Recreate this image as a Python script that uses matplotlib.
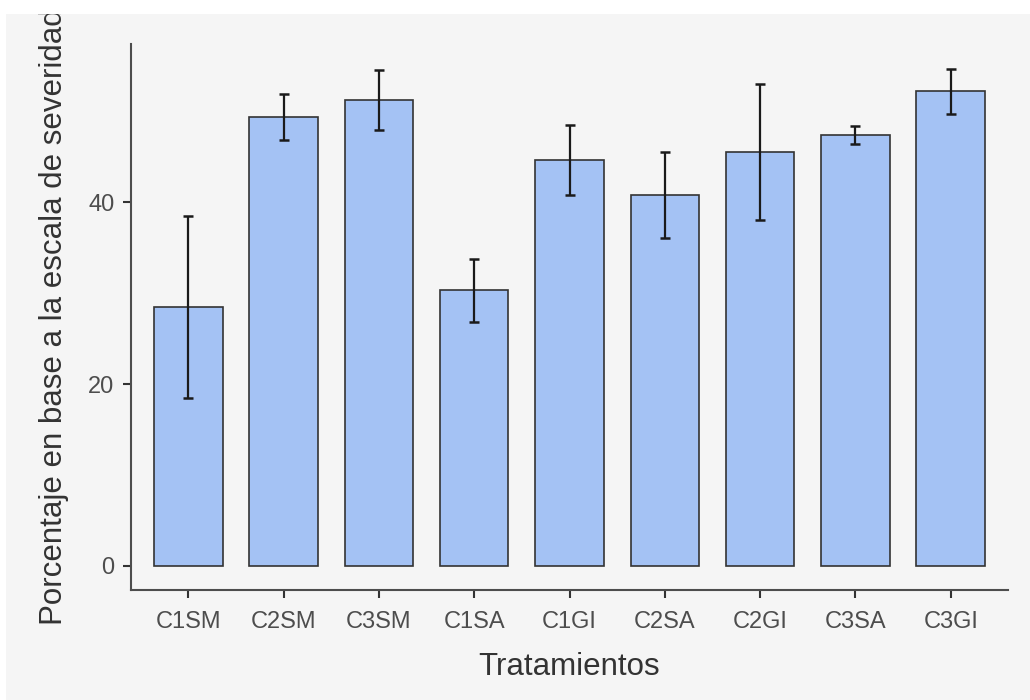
import numpy as np
import matplotlib
matplotlib.use('Agg')
import matplotlib.pyplot as plt
from matplotlib.patches import Rectangle

tratamientos = ['C1SM', 'C2SM', 'C3SM', 'C1SA', 'C1GI', 'C2SA', 'C2GI', 'C3SA', 'C3GI']
media = [28.5, 49.4, 51.2, 30.3, 44.6, 40.8, 45.5, 47.4, 52.2]
error = [10.0, 2.55, 3.3, 3.45, 3.85, 4.7, 7.5, 1.0, 2.5]
y_ticks = [0, 20, 40]

bg = '#f5f5f5'
plt.rcParams['font.family'] = ['Liberation Sans', 'DejaVu Sans']

fig = plt.figure(figsize=(10.3, 7.0), dpi=100)
fig.patch.set_facecolor(bg)
ax = fig.add_axes([131 / 1030, 110 / 700, 877 / 1030, 546 / 700])
ax.set_facecolor(bg)

x = np.arange(1, len(tratamientos) + 1)
ax.bar(x, media, width=0.72, color='#a4c2f4', edgecolor='#333333', linewidth=1.2, zorder=2)
ax.errorbar(x, media, yerr=error, fmt='none', ecolor='#1a1a1a', elinewidth=1.6,
            capsize=3.5, capthick=1.8, zorder=3)

ax.set_xlim(0.4, 9.6)
ax.set_ylim(-2.64, 57.4)
ax.set_xticks(x)
ax.set_xticklabels(tratamientos)
ax.set_yticks(y_ticks)

for s in ['top', 'right']:
    ax.spines[s].set_visible(False)
for s in ['left', 'bottom']:
    ax.spines[s].set_color('#4d4d4d')
    ax.spines[s].set_linewidth(1.5)

ax.tick_params(axis='both', colors='#333333', labelcolor='#4d4d4d', labelsize=17,
               length=6, width=1.5, pad=6)
ax.tick_params(axis='x', pad=9)
ax.set_xlabel('Tratamientos', fontsize=22.5, color='#333333', labelpad=14)
ax.set_ylabel('Porcentaje en base a la escala de severidad', fontsize=22.5,
              color='#333333', labelpad=14)

# white border strip at top/left, covering the clipped axis title
fig.add_artist(Rectangle((0, 1 - 14 / 700), 1, 14 / 700, transform=fig.transFigure,
                         facecolor='white', edgecolor='none', zorder=10))
fig.add_artist(Rectangle((0, 0), 6 / 1030, 1, transform=fig.transFigure,
                         facecolor='white', edgecolor='none', zorder=10))

plt.savefig('out.png', dpi=100, facecolor=fig.get_facecolor())
